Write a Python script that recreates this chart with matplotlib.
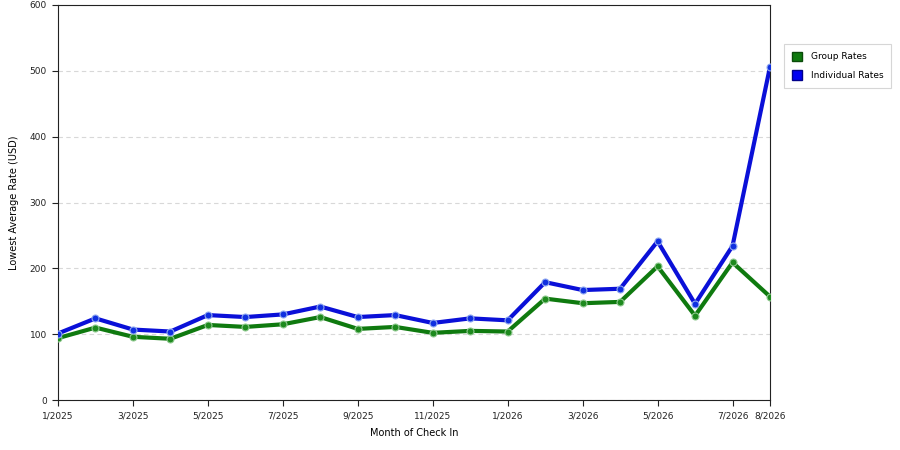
import matplotlib
matplotlib.use("Agg")
import matplotlib.pyplot as plt
from matplotlib.patches import Patch

months = ["1/2025", "2/2025", "3/2025", "4/2025", "5/2025", "6/2025", "7/2025", "8/2025",
          "9/2025", "10/2025", "11/2025", "12/2025", "1/2026", "2/2026", "3/2026", "4/2026",
          "5/2026", "6/2026", "7/2026", "8/2026"]
group_rates = [94, 110, 96, 93, 114, 111, 115, 126, 108, 111, 102, 105, 104, 154, 147, 149,
               203, 128, 209, 157]
individual_rates = [101, 124, 107, 104, 129, 126, 130, 142, 126, 129, 117, 124, 121, 179, 167, 169,
                    241, 146, 234, 506]
tick_labels = ["1/2025", "3/2025", "5/2025", "7/2025", "9/2025", "11/2025", "1/2026",
               "3/2026", "5/2026", "7/2026", "8/2026"]
y_ticks = [0, 100, 200, 300, 400, 500, 600]

plt.rcParams['font.family'] = ['DejaVu Sans']
fig = plt.figure(figsize=(9, 4.5), dpi=100)
ax = fig.add_axes([58/900, 50/450, 712/900, 395/450])

x = list(range(len(months)))
ax.plot(x, group_rates, color="#0f7a0f", lw=3, marker="o", ms=5,
        mfc="#1e8a1e", mec="#8fc98f", mew=0.8, zorder=3, solid_joinstyle="round")
ax.plot(x, individual_rates, color="#0a10d8", lw=3, marker="o", ms=5,
        mfc="#1030e0", mec="#8fa8f0", mew=0.8, zorder=4, solid_joinstyle="round")

ax.set_xlim(0, len(months) - 1)
ax.set_ylim(0, 600)
ax.set_xticks([months.index(t) for t in tick_labels])
ax.set_xticklabels(tick_labels, fontsize=6.5)
ax.set_yticks(y_ticks)
ax.set_yticklabels([str(v) for v in y_ticks], fontsize=6.5)
ax.tick_params(direction="out", length=4, width=0.8, colors="#222222", pad=4)
ax.yaxis.grid(True, linestyle=(0, (4, 3)), color="#d8d8d8", lw=0.8)
ax.set_axisbelow(True)
for s in ax.spines.values():
    s.set_color("#222222")
    s.set_linewidth(0.8)

ax.set_xlabel("Month of Check In", fontsize=7, labelpad=6)
ax.set_ylabel("Lowest Average Rate (USD)", fontsize=7, labelpad=8)

handles = [Patch(facecolor="#0f7a0f", edgecolor="#0a4a0a", label="Group Rates"),
           Patch(facecolor="#0000f0", edgecolor="#00008a", label="Individual Rates")]
leg = fig.legend(handles=handles, loc="upper left", bbox_to_anchor=(779/900, 1 - 39/450),
                 fontsize=6.5, frameon=True, fancybox=False, edgecolor="#cccccc",
                 handlelength=1.2, handleheight=1.2, borderpad=0.9, labelspacing=1.0,
                 handletextpad=0.9)
leg.get_frame().set_linewidth(0.8)

fig.savefig("out.png", dpi=100)
